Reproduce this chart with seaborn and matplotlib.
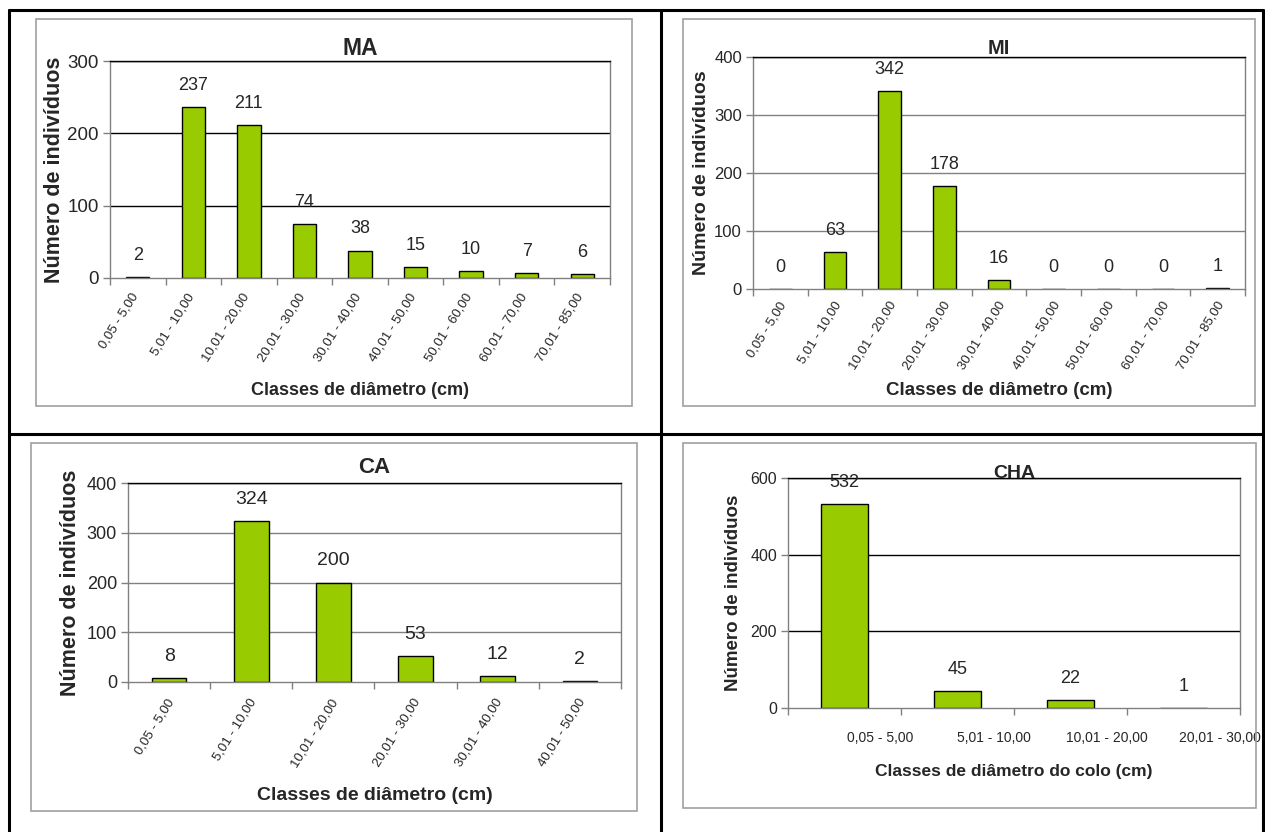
import matplotlib
matplotlib.use("Agg")
import matplotlib.pyplot as plt
import matplotlib.transforms as mtransforms
from matplotlib.lines import Line2D
from matplotlib.patches import Rectangle
import seaborn as sns
import pandas as pd

sns.set_style("white")
plt.rcParams['font.family'] = ['Liberation Sans', 'DejaVu Sans']

classes9 = ["0,05 - 5,00", "5,01 - 10,00", "10,01 - 20,00", "20,01 - 30,00",
            "30,01 - 40,00", "40,01 - 50,00", "50,01 - 60,00", "60,01 - 70,00",
            "70,01 - 85,00"]
ma_values = [2, 237, 211, 74, 38, 15, 10, 7, 6]
mi_values = [0, 63, 342, 178, 16, 0, 0, 0, 1]
classes6 = classes9[:6]
ca_values = [8, 324, 200, 53, 12, 2]
classes_cha = ["0,05 - 5,00", "5,01 - 10,00", "10,01 - 20,00", "20,01 - 30,00"]
cha_values = [532, 45, 22, 1]

W, H = 1265, 832
fig = plt.figure(figsize=(W / 100, H / 100), dpi=100)
GREEN = "#99CC00"


def fx(x):
    return x / W


def fy(y):
    return 1 - y / H


def box(x0, y0, x1, y1):
    return [fx(x0), fy(y1), fx(x1) - fx(x0), fy(y0) - fy(y1)]


# table lines
for (x0, y0, x1, y1) in [(9, 10, 1263, 10), (9, 10, 9, 832), (1263, 10, 1263, 832),
                         (661, 10, 661, 832), (9, 434, 1263, 434)]:
    fig.add_artist(Line2D([fx(x0), fx(x1)], [fy(y0), fy(y1)], color="black", lw=2.2))

# chart-area frames
for (x0, y0, x1, y1) in [(36, 19, 632, 406), (683, 19, 1255, 406),
                         (31, 443, 637, 811), (683, 443, 1256, 808)]:
    fig.add_artist(Rectangle((fx(x0), fy(y1)), fx(x1) - fx(x0), fy(y0) - fy(y1),
                             fill=False, edgecolor="#a0a0a0", lw=1.2))


def panel(rect, cats, vals, ymax, ystep, title, xlabel, grid_color, tick_fs,
          val_fs, ylab_fs, title_fs, xlab_fs, rotated=True, title_pad=4,
          ylab_pad=4, xlab_pad=6, xtick_fs=9.5, xtick_dy=-8, xtick_dx=-3):
    ax = fig.add_axes(box(*rect))
    df = pd.DataFrame({"c": cats, "v": vals})
    sns.barplot(data=df, x="c", y="v", ax=ax, color=GREEN, edgecolor="black",
                linewidth=1.0, width=0.42, saturation=1)
    n = len(cats)
    ax.set_xlim(-0.5, n - 0.5)
    ax.set_ylim(0, ymax)
    yt = list(range(0, ymax + 1, ystep))
    ax.set_yticks(yt)
    ax.set_yticklabels([str(t) for t in yt], fontsize=tick_fs)
    for t in yt[1:]:
        ax.axhline(t, color=grid_color if t < ymax else "black", lw=1, zorder=0)
    ax.tick_params(axis="y", direction="out", length=5, width=1, color="#808080",
                   pad=3, left=True)
    ax.set_xticks([i - 0.5 for i in range(n + 1)], minor=True)
    ax.tick_params(axis="x", which="minor", direction="out", length=5, width=1,
                   color="#808080", bottom=True)
    ax.set_xticks(range(n))
    ax.tick_params(axis="x", which="major", length=0)
    if rotated:
        ax.set_xticklabels(cats, rotation=58, ha="right", rotation_mode="anchor",
                           fontsize=xtick_fs)
        for lab in ax.get_xticklabels():
            lab.set_transform(lab.get_transform() +
                              mtransforms.ScaledTranslation(xtick_dx / 72, xtick_dy / 72,
                                                            fig.dpi_scale_trans))
    else:
        ax.set_xticklabels(cats, fontsize=xtick_fs)
        for lab in ax.get_xticklabels():
            lab.set_transform(lab.get_transform() +
                              mtransforms.ScaledTranslation(0.36, -0.18,
                                                            fig.dpi_scale_trans))
    for s in ["left", "bottom"]:
        ax.spines[s].set_color("#808080")
        ax.spines[s].set_linewidth(1)
    ax.spines["top"].set_color("black")
    ax.spines["right"].set_color("#808080")
    ax.spines["top"].set_linewidth(1)
    ax.spines["right"].set_linewidth(1)
    for i, v in enumerate(vals):
        ax.annotate(str(v), (i, v), xytext=(0, 15.5), textcoords="offset points",
                    ha="center", va="center", fontsize=val_fs)
    ax.set_title(title, fontsize=title_fs, fontweight="bold", pad=title_pad)
    ax.set_ylabel("Número de indivíduos", fontsize=ylab_fs, fontweight="bold",
                  labelpad=ylab_pad)
    ax.set_xlabel(xlabel, fontsize=xlab_fs, fontweight="bold", labelpad=xlab_pad)
    return ax


panel((110, 61, 610, 278), classes9, ma_values, 300, 100, "MA",
      "Classes de diâmetro (cm)", "black", 13.5, 13, 15.5, 16.5, 13,
      title_pad=4, ylab_pad=2, xlab_pad=13, xtick_dy=-6, xtick_dx=-5)
panel((753, 57, 1245, 289), classes9, mi_values, 400, 100, "MI",
      "Classes de diâmetro (cm)", "#808080", 12, 13, 14, 14.5, 13.5,
      title_pad=2, ylab_pad=3, xlab_pad=7, xtick_dy=-4, xtick_dx=-1)
panel((128, 483, 621, 682), classes6, ca_values, 400, 100, "CA",
      "Classes de diâmetro (cm)", "#808080", 13, 14, 15.5, 16, 14,
      title_pad=7, ylab_pad=4, xlab_pad=13, xtick_dy=-7, xtick_dx=-2)
panel((788, 478, 1240, 708), classes_cha, cha_values, 600, 200, "CHA",
      "Classes de diâmetro do colo (cm)", "black", 11.5, 13, 13.5, 14, 12.5,
      rotated=False, title_pad=0, ylab_pad=6, xlab_pad=14, xtick_fs=10)

fig.savefig("out.png", dpi=100)
